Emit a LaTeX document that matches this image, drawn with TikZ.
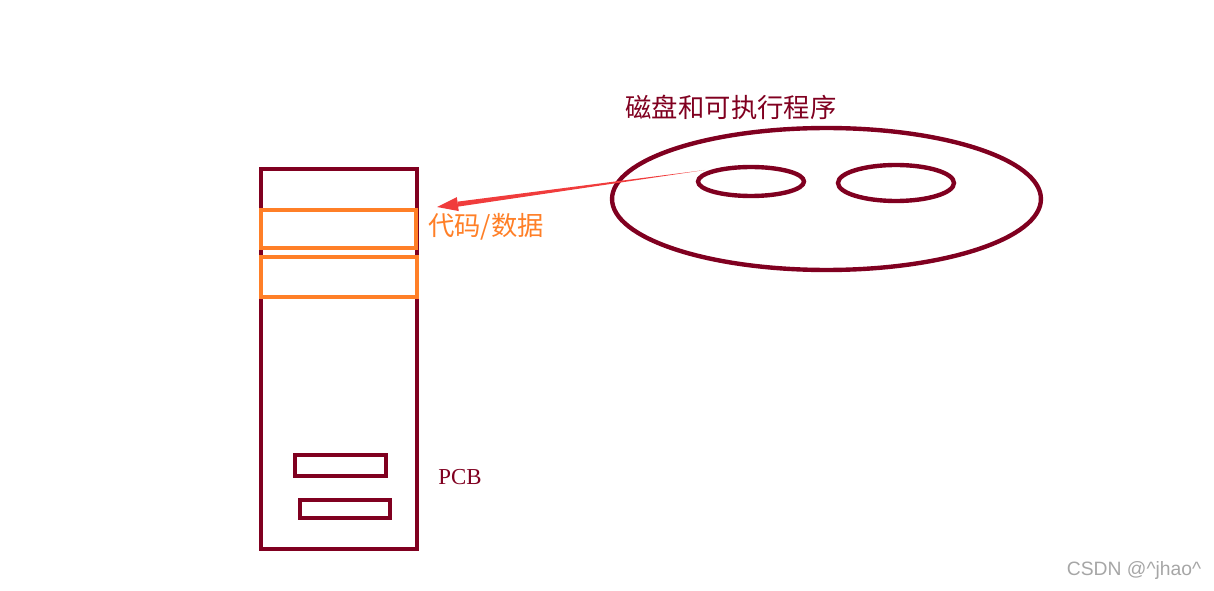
\documentclass[tikz,border=0pt]{standalone}
\usepackage{fontspec}
\setmainfont{Liberation Serif}
\newfontfamily\cjk{Noto Sans CJK SC}
\newfontfamily\marca{Liberation Sans}
\usepackage{xcolor}
\usepackage{tikz}
\usetikzlibrary{arrows.meta,positioning,shapes.geometric,calc}
\definecolor{vinho}{RGB}{128,0,32}
\definecolor{laranja}{RGB}{255,127,39}
\definecolor{vermelho}{RGB}{240,60,60}
\tikzset{
    bloco/.style={
        rectangle,
        draw=vinho,
        line width=2.6pt,
        inner sep=0pt
    },
    memoria/.style={bloco, minimum width=3.12cm, minimum height=7.6cm},
    segmento/.style={bloco, draw=laranja, minimum width=3.1cm},
    campo/.style={bloco, line width=2.3pt, minimum height=0.42cm},
    disco/.style={
        ellipse,
        draw=vinho,
        line width=2.5pt,
        inner sep=0pt
    },
    rotulo/.style={text=vinho, inner sep=0pt},
    seta/.style={fill=vermelho}
}

\begin{document}
\begin{tikzpicture}[x=0.02cm, y=-0.02cm]
    \useasboundingbox (0,0) rectangle (1214,591);

    % processo na memoria
    \node[memoria] (proc) at (339,359) {};
    \node[segmento, minimum height=0.76cm] (cod) at (338.5,229) {};
    \node[segmento, minimum height=0.8cm, minimum width=3.12cm] (dados) at (339,277) {};
    \node[campo, minimum width=1.82cm] (pcb1) at (340.5,465.5) {};
    \node[campo, minimum width=1.8cm, minimum height=0.36cm] (pcb2) at (345,509) {};
    \node[rotulo, font=\fontsize{13}{15}\selectfont] (pcb) at (460,477) {PCB};

    % disco
    \node[disco, minimum width=8.58cm, minimum height=2.84cm] (disco) at (826.5,199) {};
    \node[disco, minimum width=2.12cm, minimum height=0.58cm] (prog1) at (751,181.5) {};
    \node[disco, minimum width=2.32cm, minimum height=0.72cm] (prog2) at (896,183) {};
    \node[rotulo, font=\cjk\fontsize{15}{18}\selectfont] (titulo) at (731,107)
        {磁盘和可执行程序};

    % carga
    \node[inner sep=0pt, text=laranja, font=\cjk\fontsize{15}{18}\selectfont] (carga)
        at (486,227) {代码/数据};
    \coordinate (cauda) at (705,170);
    \coordinate (ponta) at (437,207);
    \coordinate (base) at ($(ponta)!0.42cm!(cauda)$);
    \fill[seta] (cauda) -- ($(base)!0.05cm!90:(cauda)$)
        -- ($(base)!0.05cm!-90:(cauda)$) -- cycle;
    \fill[seta] (ponta) -- ($(base)!0.14cm!90:(cauda)$)
        -- ($(base)!0.14cm!-90:(cauda)$) -- cycle;

    \node[inner sep=0pt, text=black!35, font=\marca\fontsize{11}{13}\selectfont] (marca)
        at (1134,571) {CSDN @\^{}jhao\^{}};
\end{tikzpicture}
\end{document}
